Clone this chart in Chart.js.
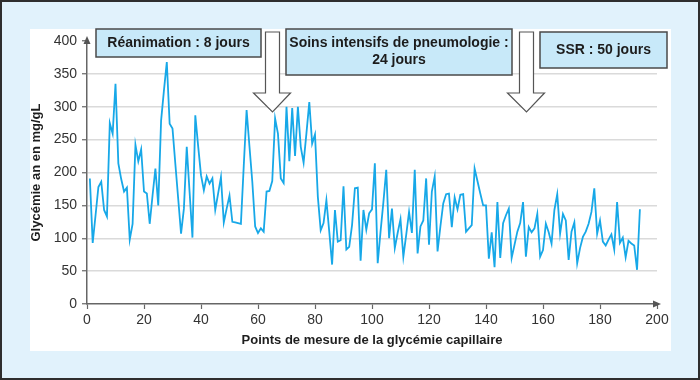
<!DOCTYPE html>
<html>
<head>
<meta charset="utf-8">
<script src="https://cdn.jsdelivr.net/npm/chart.js@4"></script>
<style>
  html, body { margin: 0; padding: 0; background: #fff; }
  #wrap { width: 700px; height: 380px; }
</style>
</head>
<body>
<div id="wrap"><canvas id="glyChart" width="700" height="380"></canvas></div>
<script>
// glycémie capillaire (mg/dL), mesures 1 à 194
const glycemie = [
  191, 93, 135, 178, 186, 143, 133, 275, 259, 335,
  214, 190, 171, 177, 98, 122, 242, 217, 235, 171,
  168, 122, 165, 206, 150, 279, 325, 368, 274, 267,
  213, 160, 107, 145, 239, 170, 101, 287, 240, 196,
  173, 194, 183, 191, 143, 168, 193, 124, 145, 165,
  125, 124, 123, 122, 210, 295, 240, 186, 118, 108,
  115, 110, 171, 172, 187, 282, 259, 191, 184, 300,
  217, 298, 225, 300, 239, 215, 260, 307, 244, 258,
  163, 112, 123, 158, 110, 60, 143, 95, 97, 179,
  83, 87, 120, 176, 177, 66, 143, 113, 138, 144,
  214, 62, 110, 155, 204, 100, 145, 85, 108, 129,
  72, 105, 140, 108, 204, 77, 118, 127, 191, 90,
  171, 194, 80, 118, 153, 167, 168, 117, 162, 144,
  166, 167, 110, 115, 120, 206, 187, 168, 150, 150,
  69, 109, 56, 155, 70, 123, 135, 145, 70, 90,
  110, 123, 155, 72, 117, 109, 115, 137, 72, 82,
  122, 109, 92, 143, 167, 107, 137, 127, 67, 110,
  124, 62, 85, 102, 110, 122, 140, 176, 107, 127,
  95, 89, 98, 106, 83, 155, 93, 101, 71, 96,
  92, 89, 52, 144
];
const xTicks = [0, 20, 40, 60, 80, 100, 120, 140, 160, 180, 200];
const yTicks = [0, 50, 100, 150, 200, 250, 300, 350, 400];
const xTitle = 'Points de mesure de la glycémie capillaire';
const yTitle = 'Glycémie an en mg/gL';

// séjours et changements de service
const phaseLabels = [
  ['Réanimation : 8 jours'],
  ['Soins intensifs de pneumologie :', '24 jours'],
  ['SSR : 50 jours']
];
const transitions = [65, 154];

const FONT = "'Liberation Sans', Arial, sans-serif";

const framePlugin = {
  id: 'frame',
  beforeDraw(chart) {
    const c = chart.ctx;
    c.save();
    c.fillStyle = '#e1f2fc';
    c.fillRect(0, 0, 700, 380);
    c.strokeStyle = '#2e2e2e';
    c.lineWidth = 2;
    c.strokeRect(1, 1, 698, 378);
    c.fillStyle = '#ffffff';
    c.fillRect(30, 29, 641, 322);
    c.restore();
  }
};

const notesPlugin = {
  id: 'notes',
  afterDraw(chart) {
    const c = chart.ctx;
    const area = chart.chartArea;
    const xs = chart.scales.x;
    c.save();

    // flèches au bout des axes
    c.fillStyle = '#555';
    c.beginPath();
    c.moveTo(area.left, area.top - 5);
    c.lineTo(area.left - 3.5, area.top + 3);
    c.lineTo(area.left + 3.5, area.top + 3);
    c.closePath();
    c.fill();
    c.beginPath();
    c.moveTo(area.right + 4, area.bottom);
    c.lineTo(area.right - 4, area.bottom - 3.5);
    c.lineTo(area.right - 4, area.bottom + 3.5);
    c.closePath();
    c.fill();

    // flèches creuses aux changements de service
    transitions.forEach(t => {
      const cx = Math.round(xs.getPixelForValue(t)) + 0.5;
      c.beginPath();
      c.moveTo(cx - 7, 32);
      c.lineTo(cx + 7, 32);
      c.lineTo(cx + 7, 93);
      c.lineTo(cx + 18, 93);
      c.lineTo(cx, 112);
      c.lineTo(cx - 19, 93);
      c.lineTo(cx - 7, 93);
      c.closePath();
      c.fillStyle = '#ffffff';
      c.fill();
      c.strokeStyle = '#555';
      c.lineWidth = 1.2;
      c.stroke();
    });

    // encadrés
    const boxes = [
      { x: 96, y: 29, w: 165, h: 28 },
      { x: 286, y: 29, w: 226, h: 46 },
      { x: 540, y: 32, w: 127, h: 36 }
    ];
    c.font = 'bold 14px ' + FONT;
    c.textAlign = 'center';
    c.textBaseline = 'middle';
    boxes.forEach((b, i) => {
      c.fillStyle = '#c8e9f9';
      c.fillRect(b.x, b.y, b.w, b.h);
      c.strokeStyle = '#4a4a4a';
      c.lineWidth = 1.5;
      c.strokeRect(b.x, b.y, b.w, b.h);
      c.fillStyle = '#1c1c1c';
      const lines = phaseLabels[i];
      const lh = 17;
      const y0 = b.y + b.h / 2 - (lines.length - 1) * lh / 2;
      lines.forEach((s, k) => c.fillText(s, b.x + b.w / 2, y0 + k * lh));
    });
    c.restore();
  }
};

new Chart(document.getElementById('glyChart'), {
  type: 'line',
  data: {
    datasets: [{
      data: glycemie.map((v, i) => ({ x: i + 1, y: v })),
      borderColor: '#17a8e8',
      borderWidth: 1.8,
      pointRadius: 0,
      tension: 0,
      fill: false
    }]
  },
  options: {
    responsive: false,
    animation: false,
    layout: { padding: { left: 0, right: 43, top: 41, bottom: 0 } },
    plugins: {
      legend: { display: false },
      tooltip: { enabled: false }
    },
    scales: {
      x: {
        type: 'linear',
        min: 0,
        max: 200,
        afterFit: s => { s.height = 76; },
        afterBuildTicks: s => { s.ticks = xTicks.map(v => ({ value: v })); },
        ticks: { color: '#333', font: { family: FONT, size: 14 }, padding: 3, maxRotation: 0, autoSkip: false },
        grid: { drawOnChartArea: false, tickLength: 5, tickColor: '#666', tickWidth: 1.2 },
        border: { color: '#666', width: 1.5 },
        title: {
          display: true,
          text: xTitle,
          color: '#1e1e1e',
          font: { family: FONT, size: 13, weight: 'bold' },
          padding: { top: 0, bottom: 32 }
        }
      },
      y: {
        min: 0,
        max: 400,
        afterFit: s => { s.width = 87; },
        afterBuildTicks: s => { s.ticks = yTicks.map(v => ({ value: v })); },
        ticks: { color: '#333', font: { family: FONT, size: 14 }, padding: 5 },
        grid: {
          color: ctx => (ctx.tick && (ctx.tick.value === 400 || ctx.tick.value === 0)) ? 'rgba(0,0,0,0)' : '#dadada',
          lineWidth: 1.5,
          tickLength: 5,
          tickColor: '#666',
          tickWidth: 1.2
        },
        border: { color: '#666', width: 1.5 },
        title: {
          display: true,
          text: yTitle,
          color: '#1e1e1e',
          font: { family: FONT, size: 13, weight: 'bold' },
          padding: { top: 29, bottom: 0 }
        }
      }
    }
  },
  plugins: [framePlugin, notesPlugin]
});
</script>
</body>
</html>
